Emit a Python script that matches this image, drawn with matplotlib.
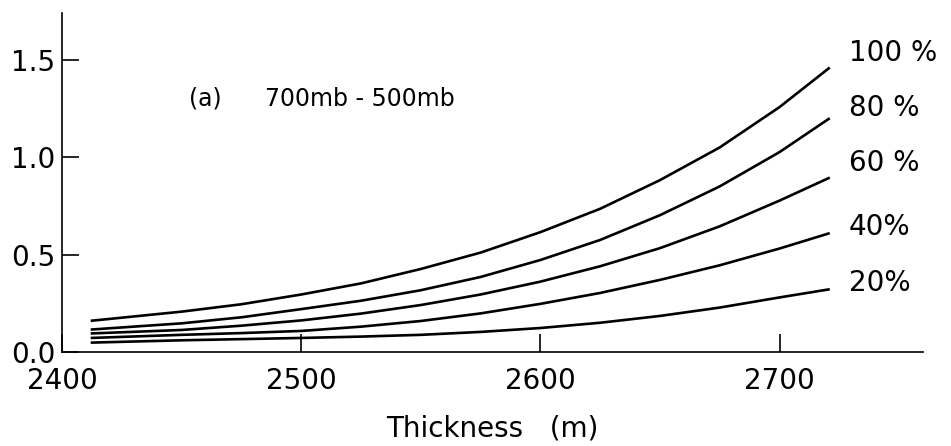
import matplotlib
matplotlib.use("Agg")
import matplotlib.pyplot as plt

# thickness (m) and curve values
thickness = [2412, 2450, 2475, 2500, 2525, 2550, 2575, 2600, 2625, 2650, 2675, 2700, 2721]
rh_100 = [0.160, 0.207, 0.245, 0.295, 0.352, 0.426, 0.510, 0.615, 0.735, 0.882, 1.050, 1.257, 1.460]
rh_80 = [0.115, 0.147, 0.178, 0.220, 0.263, 0.317, 0.385, 0.472, 0.575, 0.702, 0.850, 1.026, 1.200]
rh_60 = [0.095, 0.113, 0.135, 0.162, 0.197, 0.241, 0.295, 0.361, 0.440, 0.533, 0.645, 0.777, 0.895]
rh_40 = [0.072, 0.088, 0.097, 0.108, 0.130, 0.159, 0.198, 0.247, 0.303, 0.370, 0.445, 0.531, 0.610]
rh_20 = [0.048, 0.060, 0.066, 0.072, 0.079, 0.088, 0.103, 0.123, 0.150, 0.185, 0.228, 0.280, 0.322]

curves = [rh_100, rh_80, rh_60, rh_40, rh_20]
labels = ['100 %', '80 %', '60 %', '40%', '20%']
label_y = [1.536, 1.253, 0.971, 0.642, 0.354]

xticks = [2400, 2500, 2600, 2700]
yticks = [0.0, 0.5, 1.0, 1.5]
yticklabels = ['0.0', '0.5', '1.0', '1.5']

fig = plt.figure(figsize=(9.51, 4.46), dpi=100)
ax = fig.add_axes([0.0652, 0.2108, 0.9054, 0.7601])

for c in curves:
    ax.plot(thickness, c, color='black', lw=1.9, solid_capstyle='butt')

for lab, ly in zip(labels, label_y):
    ax.text(2729, ly, lab, fontsize=20, ha='left', va='center')

# panel caption
ax.text(2453, 1.30, '(a)', fontsize=17, ha='left', va='center')
ax.text(2485, 1.30, '700mb - 500mb', fontsize=17, ha='left', va='center')

ax.set_xlim(2400, 2760)
ax.set_ylim(0, 1.74)
ax.set_xticks(xticks)
ax.set_yticks(yticks)
ax.set_yticklabels(yticklabels)
ax.tick_params(axis='both', direction='in', labelsize=20, width=1.2, color='black')
ax.tick_params(axis='x', length=13, pad=11)
ax.tick_params(axis='y', length=12, pad=5)

for s in ['top', 'right']:
    ax.spines[s].set_visible(False)
for s in ['left', 'bottom']:
    ax.spines[s].set_linewidth(1.2)

ax.set_xlabel('Thickness   (m)', fontsize=20, labelpad=14)

fig.savefig('out.png', dpi=100)
